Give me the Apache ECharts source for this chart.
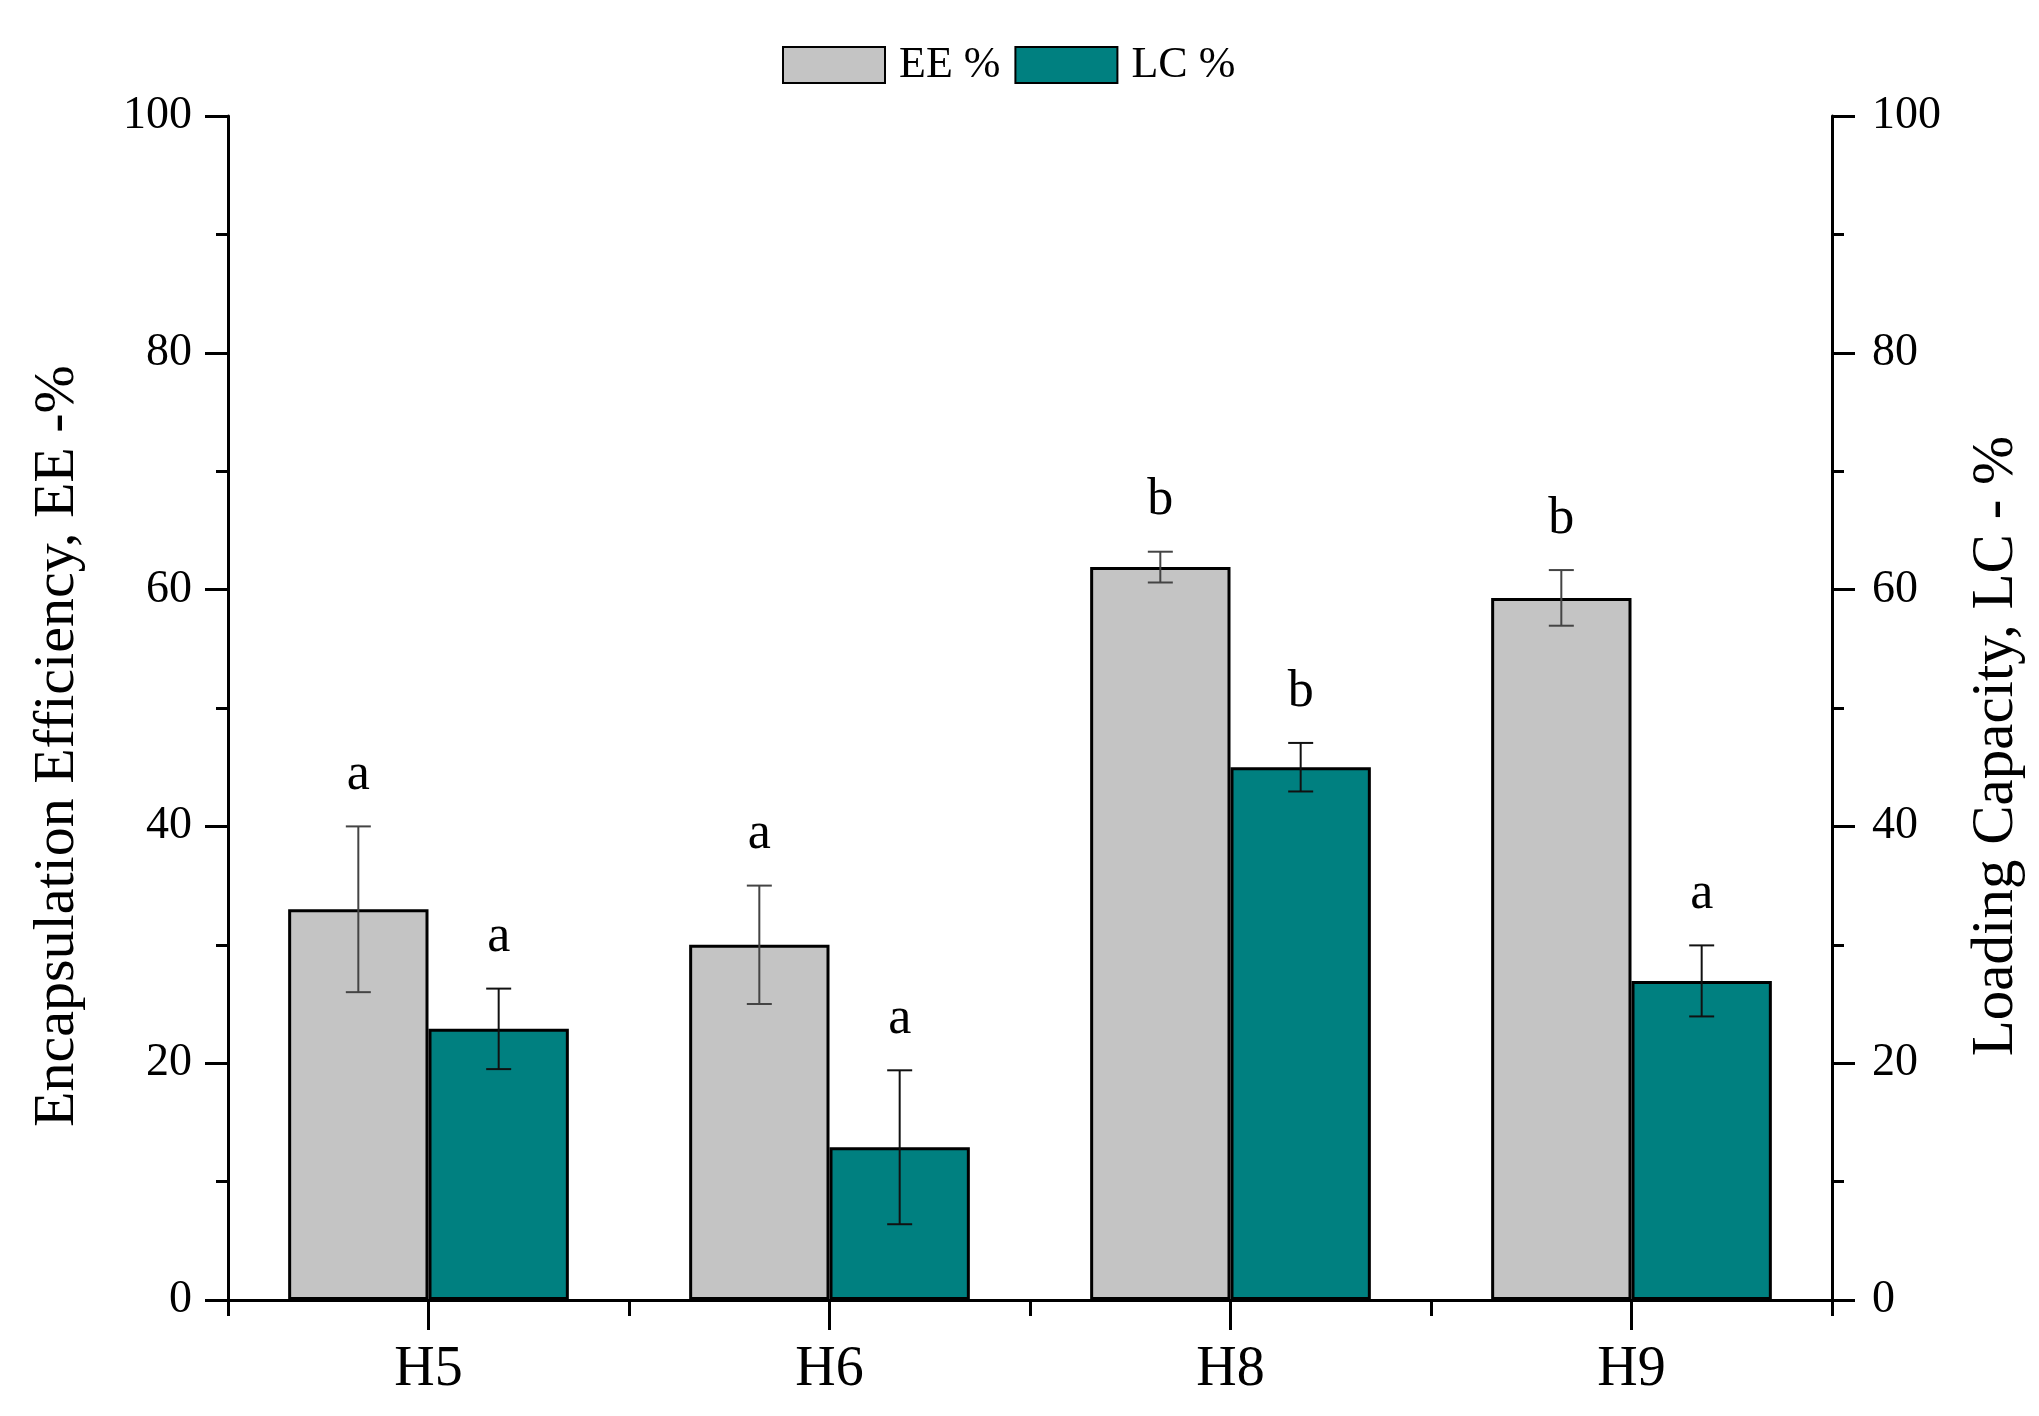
<!DOCTYPE html>
<html>
<head>
<meta charset="utf-8">
<script src="https://cdn.jsdelivr.net/npm/echarts@6/dist/echarts.min.js"></script>
<style>
html,body{margin:0;padding:0;background:#fff;}
#chart{width:2039px;height:1416px;}
</style>
</head>
<body>
<div id="chart"></div>
<script>
const categories = ['H5', 'H6', 'H8', 'H9'];
const eeValues = [33.0, 30.0, 61.9, 59.3];
const eeErrors = [7.0, 5.0, 1.3, 2.35];
const lcValues = [22.9, 12.9, 45.0, 26.95];
const lcErrors = [3.4, 6.5, 2.05, 3.0];
const eeLetters = ['a', 'a', 'b', 'b'];
const lcLetters = ['a', 'a', 'b', 'a'];
const yTicks = [0, 20, 40, 60, 80, 100];

const FONT = '"Liberation Serif", "Times New Roman", serif';

function errSeries(name, values, errors, letters, side, yIdx, color) {
  return {
    name: name,
    type: 'custom',
    xAxisIndex: 1,
    yAxisIndex: yIdx,
    z: 5,
    silent: true,
    encode: { x: 0, y: 1 },
    data: values.map((v, i) => [i, v, errors[i]]),
    renderItem: function (params, api) {
      const ci = api.value(0), v = api.value(1), e = api.value(2);
      const bandW = api.size([1, 0])[0];
      const top = api.coord([ci, v + e]);
      const bot = api.coord([ci, v - e]);
      const x = top[0] + side * bandW * 0.175;
      const cap = 12.5;
      const st = { stroke: color, lineWidth: 2 };
      return {
        type: 'group',
        children: [
          { type: 'line', shape: { x1: x, y1: top[1], x2: x, y2: bot[1] }, style: st },
          { type: 'line', shape: { x1: x - cap, y1: top[1], x2: x + cap, y2: top[1] }, style: st },
          { type: 'line', shape: { x1: x - cap, y1: bot[1], x2: x + cap, y2: bot[1] }, style: st },
          { type: 'text', x: x, y: top[1] - 51,
            style: { text: letters[params.dataIndex], fontSize: 52, fontFamily: FONT,
                     fill: '#000', align: 'center', verticalAlign: 'middle' } }
        ]
      };
    }
  };
}

function yAxisCfg(pos, margin) {
  return {
    type: 'value',
    position: pos,
    min: yTicks[0],
    max: yTicks[yTicks.length - 1],
    interval: yTicks[1] - yTicks[0],
    axisLine: { show: true, lineStyle: { color: '#000', width: 3 } },
    axisTick: { show: true, inside: false, length: 23, lineStyle: { color: '#000', width: 3 } },
    minorTick: { show: true, splitNumber: 2, length: 12, lineStyle: { color: '#000', width: 3 } },
    splitLine: { show: false },
    axisLabel: { show: true, margin: margin, fontSize: 46, fontFamily: FONT, color: '#000' }
  };
}

const chart = echarts.init(document.getElementById('chart'), null, { renderer: 'canvas' });
chart.setOption({
  backgroundColor: '#fff',
  animation: false,
  grid: { left: 228, right: 207, top: 116, bottom: 116, containLabel: false },
  legend: {
    data: ['EE %', 'LC %'],
    left: 777,
    top: 38,
    icon: 'rect',
    itemWidth: 102,
    itemHeight: 36,
    itemGap: 14,
    textStyle: { fontSize: 44, fontFamily: FONT, color: '#000', padding: [0, 0, 0, 9] }
  },
  xAxis: [
    {
      type: 'value',
      position: 'bottom',
      min: 0,
      max: categories.length,
      interval: 1,
      axisLine: { show: true, onZero: false, lineStyle: { color: '#000', width: 3 } },
      axisTick: { show: true, inside: false, length: 16, lineStyle: { color: '#000', width: 3 } },
      minorTick: { show: false },
      axisLabel: { show: false },
      splitLine: { show: false }
    },
    {
      type: 'category',
      data: categories,
      position: 'bottom',
      boundaryGap: true,
      axisLine: { show: false, onZero: false },
      axisTick: { show: false },
      axisLabel: { show: true, interval: 0, margin: 42, fontSize: 56, fontFamily: FONT, color: '#000' },
      splitLine: { show: false }
    }
  ],
  yAxis: [yAxisCfg('left', 36), yAxisCfg('right', 40)],
  graphic: [
    { type: 'text', x: 58, y: 746, rotation: Math.PI / 2,
      style: { text: 'Encapsulation Efficiency, EE -%', fontSize: 58, fontFamily: FONT, fill: '#000',
               align: 'center', verticalAlign: 'middle' } },
    { type: 'text', x: 1996, y: 746, rotation: Math.PI / 2,
      style: { text: 'Loading Capacity, LC - %', fontSize: 59, fontFamily: FONT, fill: '#000',
               align: 'center', verticalAlign: 'middle' } }
  ],
  series: [
    {
      name: 'EE %',
      type: 'bar',
      xAxisIndex: 1,
      yAxisIndex: 0,
      barWidth: '35%',
      barGap: '0%',
      z: 2,
      itemStyle: { color: '#c4c4c4', borderColor: '#000', borderWidth: 3 },
      data: eeValues
    },
    {
      name: 'LC %',
      type: 'bar',
      xAxisIndex: 1,
      yAxisIndex: 1,
      barWidth: '35%',
      barGap: '0%',
      z: 2,
      itemStyle: { color: '#008080', borderColor: '#000', borderWidth: 3 },
      data: lcValues
    },
    errSeries('EE err', eeValues, eeErrors, eeLetters, -1, 0, '#444'),
    errSeries('LC err', lcValues, lcErrors, lcLetters, 1, 1, '#111'),
    {
      name: 'category ticks',
      type: 'custom',
      xAxisIndex: 1,
      yAxisIndex: 0,
      clip: false,
      silent: true,
      z: 10,
      encode: { x: 0, y: 1 },
      data: categories.map((c, i) => [i, yTicks[0]]),
      renderItem: function (params, api) {
        const p = api.coord([api.value(0), api.value(1)]);
        return { type: 'line', shape: { x1: p[0], y1: p[1], x2: p[0], y2: p[1] + 30 },
                 style: { stroke: '#000', lineWidth: 3 } };
      }
    }
  ]
});
</script>
</body>
</html>
